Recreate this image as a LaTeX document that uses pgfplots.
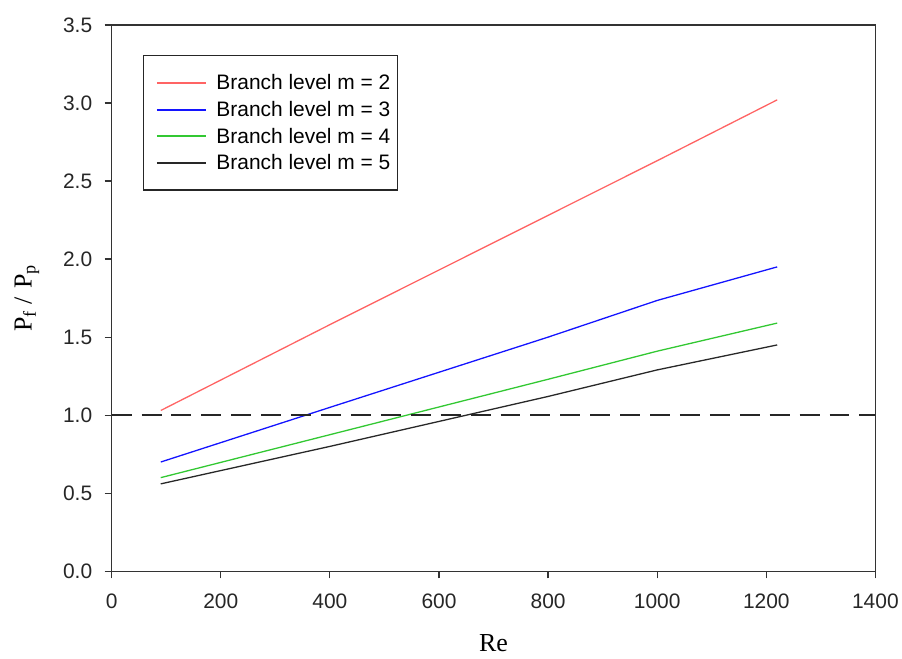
\documentclass[border=0pt]{standalone}
\usepackage{fontspec}
\setmainfont{Liberation Sans}
\newfontfamily\seriffont{Liberation Serif}
\usepackage{pgfplots}
\pgfplotsset{compat=1.18}
\definecolor{lred}{RGB}{255,100,100}
\definecolor{lblue}{RGB}{20,20,255}
\definecolor{lgreen}{RGB}{50,200,50}
\definecolor{lblack}{RGB}{40,40,40}
\begin{document}
\begin{tikzpicture}
\begin{axis}[
  scale only axis,
  width=766pt, height=548pt,
  xmin=0, xmax=1400, ymin=0, ymax=3.5,
  xtick={0,200,...,1400},
  ytick={0,0.5,...,3.5},
  tick align=outside,
  xtick pos=left, ytick pos=left,
  major tick length=7pt,
  axis line style={line width=1.4pt, color=black!80},
  every tick/.style={line width=1.2pt, color=black!80},
  /pgf/number format/assume math mode=true,
  /pgf/number format/1000 sep={},
  tick label style={font=\fontsize{21}{24}\selectfont, color=black!85},
  xticklabel style={yshift=-12pt},
  yticklabel style={xshift=-9pt, /pgf/number format/fixed, /pgf/number format/fixed zerofill, /pgf/number format/precision=1},
  xlabel={\seriffont Re},
  ylabel={\seriffont P\textsubscript{f}\hspace{6pt}/\hspace{9pt}P\textsubscript{p}},
  label style={font=\fontsize{26}{30}\selectfont},
  xlabel style={at={(axis description cs:0.5,0)}, anchor=center, yshift=-72pt},
  ylabel style={at={(axis description cs:0,0.5)}, anchor=center, yshift=85pt},
  legend style={at={(axis description cs:0.0405,0.945)}, anchor=north west,
    draw=black!85, line width=1.5pt, font=\fontsize{21}{24}\selectfont,
    inner xsep=5pt, inner ysep=17pt, row sep=6pt},
  legend cell align=left,
]
\addplot[lred, line width=1.3pt, legend image code/.code={\path (0pt,0pt); \draw[draw=lred, line width=1.8pt] (8pt,0pt) -- (57pt,0pt); \path (65pt,0pt);}] coordinates {(90,1.03) (400,1.58) (800,2.28) (1000,2.63) (1220,3.02)};
\addlegendentry{Branch level m = 2}
\addplot[lblue, line width=1.3pt, legend image code/.code={\path (0pt,0pt); \draw[draw={rgb,255:red,20;green,20;blue,255}, line width=1.8pt] (8pt,0pt) -- (57pt,0pt); \path (65pt,0pt);}] coordinates {(90,0.70) (400,1.05) (800,1.50) (1000,1.735) (1220,1.95)};
\addlegendentry{Branch level m = 3}
\addplot[lgreen, line width=1.3pt, legend image code/.code={\path (0pt,0pt); \draw[draw=lgreen, line width=1.8pt] (8pt,0pt) -- (57pt,0pt); \path (65pt,0pt);}] coordinates {(90,0.60) (400,0.875) (800,1.23) (1000,1.41) (1220,1.59)};
\addlegendentry{Branch level m = 4}
\addplot[lblack, line width=1.3pt, legend image code/.code={\path (0pt,0pt); \draw[draw=lblack, line width=1.8pt] (8pt,0pt) -- (57pt,0pt); \path (65pt,0pt);}] coordinates {(90,0.56) (400,0.80) (800,1.12) (1000,1.29) (1220,1.45)};
\addlegendentry{Branch level m = 5}
\addplot[black!85, line width=1.5pt, dash pattern=on 20pt off 10pt, forget plot] coordinates {(0,1.0) (1400,1.0)};
\end{axis}
\path ([shift={(-112pt,-87pt)}]current axis.south west) rectangle ([shift={(24pt,25pt)}]current axis.north east);
\end{tikzpicture}
\end{document}
